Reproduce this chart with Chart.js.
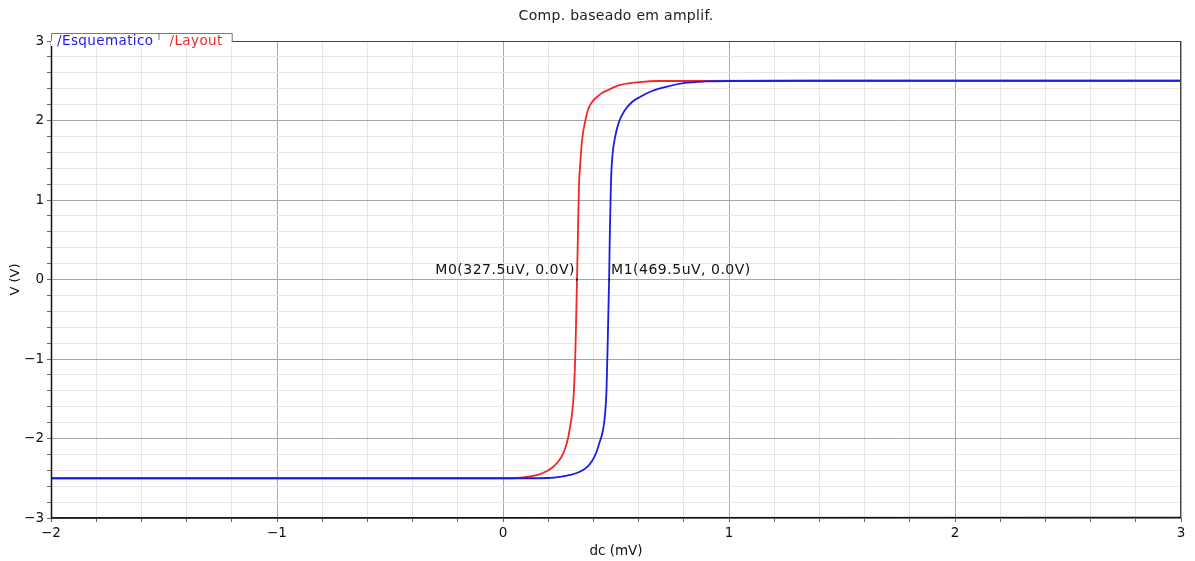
<!DOCTYPE html>
<html>
<head>
<meta charset="utf-8">
<script src="https://cdn.jsdelivr.net/npm/chart.js@4.4.1/dist/chart.umd.min.js"></script>
<style>
html,body{margin:0;padding:0;background:#fff;}
#wrap{width:1195px;height:561px;position:relative;}
</style>
</head>
<body>
<div id="wrap"><canvas id="c" width="1195" height="561"></canvas></div>
<script>
// ---- data ----
const chartTitle = "Comp. baseado em amplif.";
const xTitle = "dc (mV)";
const yTitle = "V (V)";
const seriesNames = ["/Esquematico", "/Layout"];

const esqX = [-2.0, -1.0, 0.0, 0.10, 0.20, 0.252, 0.296, 0.327, 0.354, 0.376, 0.394, 0.412, 0.425, 0.4425, 0.4513, 0.458, 0.4625, 0.4695, 0.473, 0.478, 0.4845, 0.496, 0.513, 0.540, 0.571, 0.606, 0.659, 0.717, 0.805, 0.894, 1.004, 1.5, 2.0, 3.0];
const esqY = [-2.5, -2.5, -2.5, -2.5, -2.497, -2.484, -2.459, -2.434, -2.396, -2.346, -2.283, -2.182, -2.069, -1.893, -1.704, -1.39, -0.887, 0.0, 0.623, 1.252, 1.566, 1.792, 1.981, 2.132, 2.233, 2.296, 2.371, 2.421, 2.472, 2.491, 2.497, 2.5, 2.5, 2.5];

const layX = [-2.0, -1.0, 0.0, 0.062, 0.119, 0.164, 0.195, 0.221, 0.243, 0.261, 0.274, 0.288, 0.296, 0.305, 0.314, 0.3205, 0.3275, 0.332, 0.336, 0.343, 0.350, 0.363, 0.376, 0.394, 0.416, 0.438, 0.465, 0.518, 0.606, 0.695, 1.5, 3.0];
const layY = [-2.5, -2.5, -2.5, -2.497, -2.478, -2.447, -2.409, -2.358, -2.296, -2.22, -2.132, -1.994, -1.868, -1.704, -1.39, -0.887, 0.0, 0.623, 1.164, 1.503, 1.755, 1.981, 2.132, 2.233, 2.296, 2.346, 2.384, 2.447, 2.484, 2.497, 2.5, 2.5];

const markerX = [0.3275, 0.4695];
const markerY = [0.0, 0.0];
const markerLabels = ["M0(327.5uV, 0.0V)", "M1(469.5uV, 0.0V)"];

const xMin = -2, xMax = 3, yMin = -3, yMax = 3;

// ---- build ----
const toPts = (xs, ys) => xs.map((x, i) => ({x: x, y: ys[i]}));
const BLUE = "#1c1ce6", RED = "#f02828";
const FONT = "'DejaVu Sans', sans-serif";

function isInt(v){ return Math.abs(v - Math.round(v)) < 1e-6; }
function fmt(v){ const r = Math.round(v); return r < 0 ? "\u2212" + Math.abs(r) : String(r); }

const overlay = {
  id: "overlay",
  afterDraw(chart){
    const ctx = chart.ctx, xs = chart.scales.x, ys = chart.scales.y, ca = chart.chartArea;
    ctx.save();
    // frame
    ctx.strokeStyle = "#444"; ctx.lineWidth = 1;
    ctx.strokeRect(Math.round(ca.left)+0.5, Math.round(ca.top)+0.5, Math.round(ca.right-ca.left)-1, Math.round(ca.bottom-ca.top)-1);
    ctx.strokeStyle = "#111"; ctx.lineWidth = 1.5;
    ctx.beginPath(); ctx.moveTo(ca.left+0.5, ca.top); ctx.lineTo(ca.left+0.5, ca.bottom); ctx.lineTo(ca.right, ca.bottom-0.5); ctx.stroke();
    // title
    ctx.fillStyle = "#222"; ctx.font = "14px " + FONT; ctx.textAlign = "center"; ctx.textBaseline = "middle";
    ctx.letterSpacing = "0.3px";
    ctx.fillText(chartTitle, (ca.left + ca.right)/2, 16);
    // legend tab
    const lx = ca.left, ly = ca.top - 8;
    ctx.font = "13.5px " + FONT; ctx.textAlign = "left"; ctx.textBaseline = "alphabetic";
    ctx.letterSpacing = "0.4px";
    const w1 = ctx.measureText(seriesNames[0]).width, w2 = ctx.measureText(seriesNames[1]).width;
    const sep = lx + 6 + w1 + 5, end = sep + 11 + w2 + 9;
    ctx.fillStyle = "#fff"; ctx.fillRect(lx, ly, end - lx, 13);
    ctx.strokeStyle = "#777"; ctx.lineWidth = 1;
    ctx.beginPath();
    ctx.moveTo(lx+0.5, ca.top); ctx.lineTo(lx+0.5, ly+0.5); ctx.lineTo(end+0.5, ly+0.5); ctx.lineTo(end+0.5, ca.top+1);
    ctx.moveTo(sep+0.5, ly); ctx.lineTo(sep+0.5, ly+7);
    ctx.stroke();
    ctx.fillStyle = BLUE; ctx.fillText(seriesNames[0], lx + 6, ly + 12);
    ctx.fillStyle = RED; ctx.fillText(seriesNames[1], sep + 11, ly + 12);
    // markers
    ctx.font = "14px " + FONT; ctx.textBaseline = "middle";
    ctx.letterSpacing = "0.5px";
    markerX.forEach((mx, i) => {
      const px = xs.getPixelForValue(mx), py = ys.getPixelForValue(markerY[i]);
      ctx.fillStyle = "#222"; ctx.fillRect(px-1, py-1, 2, 2);
      ctx.fillStyle = "#111";
      if (i === 0){ ctx.textAlign = "right"; ctx.fillText(markerLabels[i], px - 2, py - 9); }
      else { ctx.textAlign = "left"; ctx.fillText(markerLabels[i], px + 2, py - 9); }
    });
    ctx.restore();
  }
};

new Chart(document.getElementById("c"), {
  type: "scatter",
  data: {
    datasets: [
      {label: seriesNames[0], data: toPts(esqX, esqY), showLine: true, borderColor: BLUE, borderWidth: 1.8, pointRadius: 0, cubicInterpolationMode: "monotone", fill: false},
      {label: seriesNames[1], data: toPts(layX, layY), showLine: true, borderColor: RED, borderWidth: 1.8, pointRadius: 0, cubicInterpolationMode: "monotone", fill: false}
    ]
  },
  options: {
    responsive: false, animation: false, devicePixelRatio: 1,
    layout: {padding: {top: 41, right: 14, left: 0, bottom: 0}},
    plugins: {legend: {display: false}, title: {display: false}, tooltip: {enabled: false}},
    scales: {
      x: {
        type: "linear", min: xMin, max: xMax,
        afterFit(s){ s.height = 43; },
        ticks: {stepSize: 0.2, autoSkip: false, maxRotation: 0, color: "#111", font: {family: FONT, size: 13.5}, padding: 3,
          callback: (v) => isInt(v) ? fmt(v) : ""},
        grid: {drawTicks: true, tickLength: 4,
          color: (c) => isInt(c.tick.value) ? "#a8a8a8" : "#e6e6e6",
          tickColor: "#666", lineWidth: 1},
        border: {display: false},
        title: {display: true, text: xTitle, color: "#111", font: {family: FONT, size: 13.5}, padding: {top: 0, bottom: 1}}
      },
      y: {
        type: "linear", min: yMin, max: yMax,
        afterFit(s){ s.width = 51; },
        ticks: {stepSize: 0.2, autoSkip: false, color: "#111", font: {family: FONT, size: 13.5}, padding: 3,
          callback: (v) => isInt(v) ? fmt(v) : ""},
        grid: {drawTicks: true, tickLength: 4,
          color: (c) => isInt(c.tick.value) ? "#a8a8a8" : "#e6e6e6",
          tickColor: "#666", lineWidth: 1},
        border: {display: false},
        title: {display: true, text: yTitle, color: "#111", font: {family: FONT, size: 13}, padding: {top: 8, bottom: 0}}
      }
    }
  },
  plugins: [overlay]
});
</script>
</body>
</html>
